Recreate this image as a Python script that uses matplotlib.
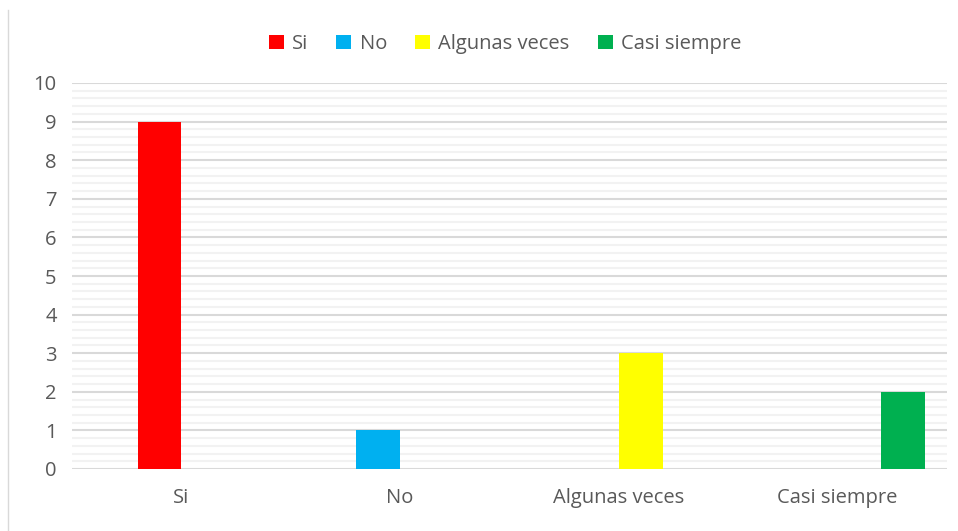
import matplotlib
matplotlib.use("Agg")
import matplotlib.pyplot as plt
import numpy as np
from matplotlib.lines import Line2D

categories = ["Si", "No", "Algunas veces", "Casi siempre"]
series_names = ["Si", "No", "Algunas veces", "Casi siempre"]
series_values = [9, 1, 3, 2]
series_colors = ["#FF0000", "#00B0F0", "#FFFF00", "#00B050"]
y_ticks = [0, 1, 2, 3, 4, 5, 6, 7, 8, 9, 10]

plt.rcParams['font.family'] = ['Open Sans', 'DejaVu Sans']

fig = plt.figure(figsize=(9.58, 5.31), dpi=100)
ax = fig.add_axes([72/958, 62/531, 875/958, 386/531])

x = np.arange(len(categories))
bar_w = 0.2
slots = [1, 1, 2, 3]  # slot within 4-bar group
for i, (name, val, col) in enumerate(zip(series_names, series_values, series_colors)):
    off = (slots[i] - 1.5) * bar_w
    ax.bar(x[i] + off, val, width=bar_w, color=col, label=name, zorder=3)

ax.set_xlim(-0.5, len(categories) - 0.5)
ax.set_ylim(0, 10)
ax.set_yticks(y_ticks)
ax.set_yticks(np.arange(0, 10.01, 0.2), minor=True)
ax.set_xticks(x)
ax.set_xticklabels(categories)
ax.grid(axis='y', which='minor', color='#f2f2f2', lw=1.5, zorder=0)
ax.grid(axis='y', which='major', color='#d9d9d9', lw=1.5, zorder=1)
ax.tick_params(which='both', length=0)
ax.tick_params(axis='y', labelsize=14.5, labelcolor='#595959', pad=11)
ax.tick_params(axis='x', labelsize=14.5, labelcolor='#595959', pad=14)
for s in ax.spines.values():
    s.set_visible(False)

leg = fig.legend(loc='center', bbox_to_anchor=(505/958, 1 - 44/531), ncol=4, frameon=False,
                 fontsize=14.5, handlelength=0.75, handleheight=0.75, handletextpad=0.4,
                 columnspacing=1.4, labelcolor='#595959')

fig.add_artist(Line2D([8/958, 8/958], [0, 1 - 10/531], transform=fig.transFigure,
                      color='#d9d9d9', lw=1))

fig.savefig("out.png", dpi=100, facecolor='white')
